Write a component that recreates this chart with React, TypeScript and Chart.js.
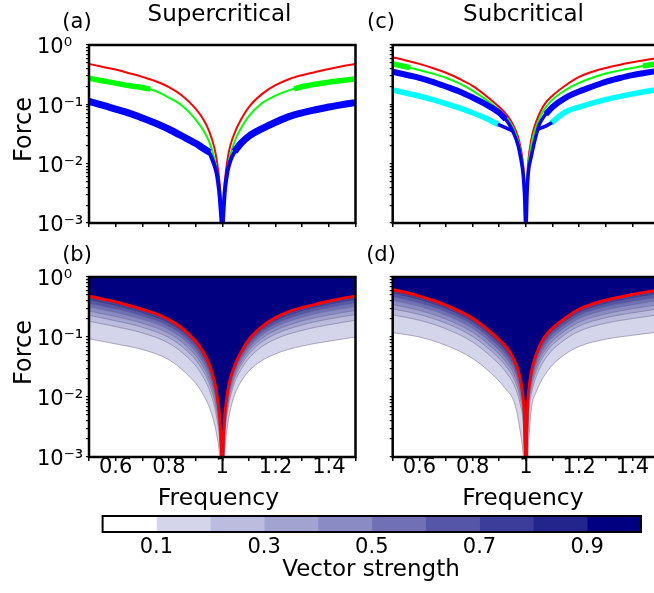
import React, { useEffect, useRef } from 'react';
import { Chart, registerables } from 'chart.js';

Chart.register(...registerables);

const FONT = 'DejaVu Sans';
Chart.defaults.font.family = FONT;
Chart.defaults.color = '#000';

// ---------------- axes / tick labels ----------------
const X_TICKS = [0.5, 0.6, 0.7, 0.8, 0.9, 1, 1.1, 1.2, 1.3, 1.4, 1.5];
const X_LABELED = [0.6, 0.8, 1, 1.2, 1.4];
const Y_TICKS = [
  0.001, 0.002, 0.003, 0.004, 0.005, 0.006, 0.007, 0.008, 0.009,
  0.01, 0.02, 0.03, 0.04, 0.05, 0.06, 0.07, 0.08, 0.09,
  0.1, 0.2, 0.3, 0.4, 0.5, 0.6, 0.7, 0.8, 0.9, 1,
];
const Y_MAJOR = [1, 0.1, 0.01, 0.001];
const Y_MAJOR_LABELS = ['10⁰', '10⁻¹', '10⁻²', '10⁻³'];

// ---------------- top panels: response curves ----------------
const FREQ = [0.5, 0.55, 0.6, 0.65, 0.7, 0.75, 0.8, 0.85, 0.9, 0.93, 0.95, 0.97, 0.98, 0.99, 0.995, 1.0,
  1.005, 1.01, 1.02, 1.03, 1.05, 1.07, 1.1, 1.15, 1.2, 1.25, 1.3, 1.35, 1.4, 1.45, 1.5];

// (a) Supercritical
const RED_A = [0.48, 0.43, 0.385, 0.335, 0.29, 0.245, 0.195, 0.14, 0.085, 0.055, 0.036, 0.019, 0.011, 0.0048, 0.0022, 0.0008,
  0.0024, 0.0052, 0.012, 0.02, 0.036, 0.055, 0.09, 0.15, 0.21, 0.265, 0.31, 0.35, 0.395, 0.44, 0.48];
const GREEN_A = [0.275, 0.25, 0.228, 0.207, 0.192, 0.168, 0.13, 0.095, 0.056, 0.036, 0.024, 0.0125, 0.0075, 0.0032, 0.0015, 0.0008,
  0.0016, 0.0036, 0.0085, 0.014, 0.026, 0.039, 0.063, 0.105, 0.14, 0.172, 0.198, 0.218, 0.236, 0.252, 0.268];
const BLUE_A = [0.112, 0.097, 0.083, 0.071, 0.059, 0.048, 0.038, 0.029, 0.022, 0.018, 0.0155, 0.0095, 0.0065, 0.0029, 0.0015, 0.0008,
  0.0017, 0.0036, 0.0075, 0.011, 0.017, 0.022, 0.029, 0.039, 0.05, 0.062, 0.072, 0.081, 0.09, 0.099, 0.107];
const GREEN_A_THICK_L_X = [0.5, 0.55, 0.6, 0.65, 0.7, 0.73];
const GREEN_A_THICK_L_Y = [0.275, 0.25, 0.228, 0.207, 0.192, 0.18];
const GREEN_A_THICK_R_X = [1.27, 1.3, 1.35, 1.4, 1.45, 1.5];
const GREEN_A_THICK_R_Y = [0.182, 0.198, 0.218, 0.236, 0.252, 0.268];
const BLUE_A_THICK_L_X = [0.5, 0.55, 0.6, 0.65, 0.7, 0.75, 0.8, 0.85, 0.9, 0.93, 0.953];
const BLUE_A_THICK_L_Y = [0.112, 0.097, 0.083, 0.071, 0.059, 0.048, 0.038, 0.029, 0.022, 0.018, 0.0155];
const BLUE_A_THICK_R_X = [1.046, 1.07, 1.1, 1.15, 1.2, 1.25, 1.3, 1.35, 1.4, 1.45, 1.5];
const BLUE_A_THICK_R_Y = [0.016, 0.022, 0.029, 0.039, 0.05, 0.062, 0.072, 0.081, 0.09, 0.099, 0.107];

// (c) Subcritical
const RED_C = [0.62, 0.55, 0.48, 0.41, 0.34, 0.27, 0.205, 0.14, 0.09, 0.065, 0.047, 0.029, 0.019, 0.0095, 0.0048, 0.0008,
  0.0055, 0.012, 0.025, 0.039, 0.068, 0.1, 0.14, 0.21, 0.29, 0.355, 0.41, 0.46, 0.51, 0.56, 0.61];
const GREEN_C = [0.48, 0.43, 0.38, 0.33, 0.28, 0.225, 0.17, 0.12, 0.08, 0.058, 0.042, 0.025, 0.016, 0.008, 0.004, 0.0008,
  0.0045, 0.0095, 0.02, 0.032, 0.057, 0.083, 0.12, 0.175, 0.23, 0.28, 0.33, 0.37, 0.41, 0.45, 0.49];
const BLUE_C = [0.355, 0.315, 0.28, 0.24, 0.2, 0.165, 0.13, 0.1, 0.072, 0.052, 0.036, 0.021, 0.013, 0.0065, 0.003, 0.0008,
  0.0035, 0.0075, 0.013, 0.021, 0.045, 0.064, 0.09, 0.13, 0.165, 0.2, 0.24, 0.275, 0.31, 0.34, 0.37];
const GREEN_C_THICK_L_X = [0.5, 0.55, 0.565];
const GREEN_C_THICK_L_Y = [0.48, 0.43, 0.415];
const GREEN_C_THICK_R_X = [1.44, 1.45, 1.5];
const GREEN_C_THICK_R_Y = [0.442, 0.45, 0.49];
const BLUE_C_THICK_L_X = [0.5, 0.55, 0.6, 0.65, 0.7, 0.75, 0.8, 0.85, 0.9, 0.924];
const BLUE_C_THICK_L_Y = [0.355, 0.315, 0.28, 0.24, 0.2, 0.165, 0.13, 0.1, 0.072, 0.056];
const BLUE_C_THICK_R_X = [1.075, 1.1, 1.15, 1.2, 1.25, 1.3, 1.35, 1.4, 1.45, 1.5];
const BLUE_C_THICK_R_Y = [0.068, 0.09, 0.13, 0.165, 0.2, 0.24, 0.275, 0.31, 0.34, 0.37];
const CYAN_C_L_X = [0.5, 0.55, 0.6, 0.65, 0.7, 0.75, 0.8, 0.85, 0.9];
const CYAN_C_L_Y = [0.175, 0.155, 0.138, 0.12, 0.103, 0.087, 0.072, 0.058, 0.045];
const CYAN_C_R_X = [1.094, 1.15, 1.2, 1.25, 1.3, 1.35, 1.4, 1.45, 1.5];
const CYAN_C_R_Y = [0.048, 0.075, 0.09, 0.105, 0.12, 0.135, 0.15, 0.165, 0.18];
const HOOK_C_L_X = [0.9, 0.925, 0.948];
const HOOK_C_L_Y = [0.045, 0.04, 0.036];
const HOOK_C_R_X = [1.046, 1.07, 1.094];
const HOOK_C_R_Y = [0.038, 0.042, 0.048];

// ---------------- bottom panels: vector-strength contours ----------------
const CF = [0.5, 0.6, 0.7, 0.8, 0.87, 0.92, 0.96, 0.98, 0.99, 1.0, 1.01, 1.02, 1.04, 1.08, 1.13, 1.2, 1.3, 1.4, 1.5];

// (b)
const VS10_B = [0.0935, 0.0767, 0.0619, 0.0417, 0.0234, 0.0127, 0.00525, 0.00224, 0.00107, 0.0002, 0.00132, 0.00339, 0.0089, 0.0209, 0.0355, 0.0525, 0.0708, 0.0851, 0.1];
const VS20_B = [0.183, 0.149, 0.117, 0.0785, 0.0458, 0.0248, 0.0103, 0.0043, 0.00198, 0.0003, 0.00232, 0.0057, 0.0143, 0.0335, 0.0596, 0.0925, 0.129, 0.16, 0.19];
const VS30_B = [0.23, 0.186, 0.145, 0.0974, 0.0575, 0.0311, 0.0129, 0.00537, 0.00244, 0.00035, 0.00282, 0.0068, 0.0168, 0.0394, 0.0712, 0.112, 0.159, 0.199, 0.237];
const VS40_B = [0.27, 0.219, 0.169, 0.114, 0.0678, 0.0366, 0.0152, 0.00629, 0.00283, 0.0004, 0.00324, 0.00772, 0.0188, 0.0442, 0.0808, 0.129, 0.185, 0.232, 0.277];
const VS50_B = [0.318, 0.257, 0.197, 0.133, 0.0798, 0.0432, 0.0179, 0.00737, 0.00329, 0.00045, 0.00372, 0.00876, 0.0211, 0.0495, 0.0917, 0.148, 0.214, 0.271, 0.324];
const VS60_B = [0.363, 0.292, 0.223, 0.15, 0.091, 0.0492, 0.0204, 0.00838, 0.00371, 0.0005, 0.00415, 0.0097, 0.0232, 0.0543, 0.1015, 0.165, 0.24, 0.306, 0.367];
const VS70_B = [0.407, 0.327, 0.248, 0.167, 0.102, 0.0552, 0.0229, 0.00935, 0.00412, 0.0006, 0.00457, 0.0106, 0.0251, 0.0589, 0.111, 0.182, 0.267, 0.341, 0.409];
const VS80_B = [0.446, 0.358, 0.27, 0.182, 0.112, 0.0604, 0.025, 0.0102, 0.00448, 0.0007, 0.00493, 0.01135, 0.0268, 0.0627, 0.119, 0.196, 0.289, 0.372, 0.446];

// (d)
const VS10_D = [0.118, 0.1, 0.0726, 0.0439, 0.0247, 0.01435, 0.00724, 0.0025, 0.0011, 0.0002, 0.0016, 0.006, 0.0124, 0.0265, 0.0452, 0.0695, 0.0918, 0.1067, 0.1216];
const VS20_D = [0.233, 0.1905, 0.1368, 0.0826, 0.0469, 0.0278, 0.0143, 0.00716, 0.00369, 0.0003, 0.00518, 0.0108, 0.0225, 0.048, 0.0796, 0.1247, 0.1697, 0.203, 0.2355];
const VS30_D = [0.294, 0.237, 0.1697, 0.1024, 0.0583, 0.0348, 0.018, 0.00904, 0.00462, 0.00035, 0.00632, 0.0132, 0.0276, 0.0588, 0.0966, 0.152, 0.209, 0.252, 0.295];
const VS40_D = [0.347, 0.277, 0.198, 0.1195, 0.0682, 0.0409, 0.0213, 0.01067, 0.00543, 0.0004, 0.0073, 0.0152, 0.0319, 0.068, 0.111, 0.176, 0.243, 0.295, 0.347];
const VS50_D = [0.409, 0.324, 0.231, 0.1395, 0.0798, 0.0481, 0.0251, 0.0126, 0.00638, 0.00045, 0.0084, 0.0176, 0.0368, 0.0786, 0.127, 0.203, 0.282, 0.345, 0.407];
const VS60_D = [0.468, 0.3675, 0.261, 0.158, 0.0904, 0.0547, 0.0287, 0.0144, 0.00726, 0.0005, 0.00944, 0.0197, 0.0414, 0.0883, 0.142, 0.2275, 0.318, 0.391, 0.4634];
const VS70_D = [0.525, 0.41, 0.291, 0.176, 0.101, 0.0612, 0.0322, 0.0161, 0.00813, 0.0006, 0.0104, 0.0218, 0.0458, 0.0977, 0.157, 0.251, 0.353, 0.4365, 0.519];
const VS80_D = [0.575, 0.447, 0.317, 0.1914, 0.11, 0.0669, 0.0353, 0.0177, 0.00888, 0.0007, 0.01127, 0.0236, 0.0497, 0.106, 0.169, 0.2716, 0.384, 0.4757, 0.567];

// ---------------- colour bar ----------------
const CB_EDGES = [0, 0.1, 0.2, 0.3, 0.4, 0.5, 0.6, 0.7, 0.8, 0.9, 1.0];
const CB_TICKS = [0.1, 0.3, 0.5, 0.7, 0.9];
const CB_COLORS = ['#ffffff', '#d4d4eb', '#bcbcde', '#a3a3d1', '#8a8ac4', '#7070b6', '#5656a8', '#3c3c9a', '#24248d', '#000080'];

// ---------------- helpers ----------------
const pts = (xs: number[], ys: number[]) => xs.map((x, i) => ({ x, y: ys[i] }));

function lineDs(xs: number[], ys: number[], color: string, width: number, order: number, extra: any = {}) {
  return {
    data: pts(xs, ys),
    borderColor: color,
    backgroundColor: color,
    borderWidth: width,
    pointRadius: 0,
    pointHoverRadius: 0,
    fill: false,
    cubicInterpolationMode: 'monotone',
    borderCapStyle: 'butt',
    borderJoinStyle: 'round',
    order,
    ...extra,
  };
}

type TextItem = { t: string; x: number; y: number; size: number; rot?: boolean };

const textPlugin = (items: TextItem[]) => ({
  id: 'panelTexts',
  afterDraw(chart: any) {
    const ctx = chart.ctx;
    ctx.save();
    ctx.fillStyle = '#000';
    ctx.textAlign = 'center';
    ctx.textBaseline = 'alphabetic';
    for (const it of items) {
      ctx.font = `${it.size}px "${FONT}"`;
      if (it.rot) {
        ctx.save();
        ctx.translate(it.x, it.y);
        ctx.rotate(-Math.PI / 2);
        ctx.fillText(it.t, 0, 0);
        ctx.restore();
      } else {
        ctx.fillText(it.t, it.x, it.y);
      }
    }
    ctx.restore();
  },
});

const framePlugin = (w: number) => ({
  id: 'frame',
  afterDraw(chart: any) {
    const { left, top, right, bottom } = chart.chartArea;
    const ctx = chart.ctx;
    ctx.save();
    ctx.lineWidth = w;
    ctx.strokeStyle = '#000';
    ctx.strokeRect(left, top, right - left, bottom - top);
    ctx.restore();
  },
});

const xScale = (h: number, labels: boolean) => ({
  type: 'linear',
  min: 0.5,
  max: 1.5,
  afterBuildTicks: (s: any) => { s.ticks = X_TICKS.map((v) => ({ value: v })); },
  afterFit: (s: any) => { s.height = h; },
  ticks: {
    autoSkip: false,
    maxRotation: 0,
    padding: -6,
    color: '#000',
    font: { size: 21, family: FONT },
    callback: (v: number) => (labels && X_LABELED.includes(v) ? String(v) : ''),
  },
  grid: { display: true, drawOnChartArea: false, drawTicks: true, tickLength: 4, color: '#000', lineWidth: 1.5 },
  border: { display: false },
});

const yScale = (w: number, labels: boolean) => ({
  type: 'logarithmic',
  min: 0.001,
  max: 1,
  afterBuildTicks: (s: any) => { s.ticks = Y_TICKS.map((v) => ({ value: v })); },
  afterFit: (s: any) => { s.width = w; },
  ticks: {
    autoSkip: false,
    crossAlign: 'far',
    padding: 0,
    labelOffset: 3,
    color: '#000',
    font: { size: 21, family: FONT },
    callback: (v: number) => {
      if (!labels) return '';
      const i = Y_MAJOR.indexOf(v);
      return i >= 0 ? Y_MAJOR_LABELS[i] : '';
    },
  },
  grid: { display: true, drawOnChartArea: false, drawTicks: true, tickLength: 3, color: '#000', lineWidth: 1.2 },
  border: { display: false },
});

function panelConfig(p: any) {
  return {
    type: 'line',
    data: { datasets: p.datasets },
    options: {
      responsive: false,
      animation: false,
      devicePixelRatio: 1,
      events: [],
      layout: { padding: { left: p.padLeft, right: p.padRight, top: p.padTop, bottom: 0 } },
      plugins: { legend: { display: false }, tooltip: { enabled: false } },
      scales: { x: xScale(p.xHeight, p.xLabels), y: yScale(p.yWidth, p.yLabels) },
    },
    plugins: [framePlugin(2.5), textPlugin(p.texts)],
  };
}

const RED = '#ff0000';
const GREEN = '#00ff00';
const BLUE = '#0000ff';
const CYAN = '#00ffff';
const CONTOUR_LINE = 'rgba(105,105,140,0.65)';

function contourSet(levels: number[][], red: number[]) {
  const ds: any[] = [];
  levels.forEach((ys, i) => {
    ds.push(lineDs(CF, ys, CONTOUR_LINE, 0.8, 8 - i, { fill: 'end', backgroundColor: CB_COLORS[i + 1] }));
  });
  ds.push(lineDs(FREQ, red, RED, 3, 0, { fill: 'end', backgroundColor: CB_COLORS[9] }));
  return ds;
}

const buildA = () => panelConfig({
  padLeft: 37, yWidth: 52, padTop: 45, xHeight: 17, padRight: 4.5, xLabels: false, yLabels: true,
  texts: [
    { t: '(a)', x: 77, y: 28, size: 21 },
    { t: 'Supercritical', x: 219.5, y: 21, size: 23 },
    { t: 'Force', x: 31, y: 129.5, size: 24, rot: true },
  ],
  datasets: [
    lineDs(FREQ, RED_A, RED, 2, 6),
    lineDs(FREQ, GREEN_A, GREEN, 2, 5),
    lineDs(GREEN_A_THICK_L_X, GREEN_A_THICK_L_Y, GREEN, 5.5, 4),
    lineDs(GREEN_A_THICK_R_X, GREEN_A_THICK_R_Y, GREEN, 5.5, 4),
    lineDs(FREQ, BLUE_A, BLUE, 4, 3),
    lineDs(BLUE_A_THICK_L_X, BLUE_A_THICK_L_Y, BLUE, 7, 2),
    lineDs(BLUE_A_THICK_R_X, BLUE_A_THICK_R_Y, BLUE, 7, 2),
  ],
});

const buildC = () => panelConfig({
  padLeft: 20, yWidth: 12.7, padTop: 45, xHeight: 17, padRight: 1, xLabels: false, yLabels: false,
  texts: [
    { t: '(c)', x: 21, y: 28, size: 21 },
    { t: 'Subcritical', x: 163.5, y: 21, size: 23 },
  ],
  datasets: [
    lineDs(FREQ, RED_C, RED, 2, 7),
    lineDs(FREQ, GREEN_C, GREEN, 2, 6),
    lineDs(GREEN_C_THICK_L_X, GREEN_C_THICK_L_Y, GREEN, 5.5, 5),
    lineDs(GREEN_C_THICK_R_X, GREEN_C_THICK_R_Y, GREEN, 5.5, 5),
    lineDs(CYAN_C_L_X, CYAN_C_L_Y, CYAN, 5.5, 4),
    lineDs(CYAN_C_R_X, CYAN_C_R_Y, CYAN, 5.5, 4),
    lineDs(FREQ, BLUE_C, BLUE, 3.5, 3),
    lineDs(BLUE_C_THICK_L_X, BLUE_C_THICK_L_Y, BLUE, 6, 2),
    lineDs(BLUE_C_THICK_R_X, BLUE_C_THICK_R_Y, BLUE, 6, 2),
    lineDs(HOOK_C_L_X, HOOK_C_L_Y, BLUE, 3.5, 1, { borderCapStyle: 'round' }),
    lineDs(HOOK_C_R_X, HOOK_C_R_Y, BLUE, 3.5, 1, { borderCapStyle: 'round' }),
  ],
});

const buildB = () => panelConfig({
  padLeft: 37, yWidth: 52, padTop: 37, xHeight: 53, padRight: 4.5, xLabels: true, yLabels: true,
  texts: [
    { t: '(b)', x: 77, y: 20.5, size: 21 },
    { t: 'Force', x: 31, y: 112.5, size: 24, rot: true },
    { t: 'Frequency', x: 218.5, y: 265, size: 23.5 },
  ],
  datasets: contourSet([VS10_B, VS20_B, VS30_B, VS40_B, VS50_B, VS60_B, VS70_B, VS80_B], RED_A),
});

const buildD = () => panelConfig({
  padLeft: 20, yWidth: 12.7, padTop: 37, xHeight: 53, padRight: 1, xLabels: true, yLabels: false,
  texts: [
    { t: '(d)', x: 21, y: 21, size: 21 },
    { t: 'Frequency', x: 163, y: 265, size: 23.5 },
  ],
  datasets: contourSet([VS10_D, VS20_D, VS30_D, VS40_D, VS50_D, VS60_D, VS70_D, VS80_D], RED_C),
});

const buildBar = () => ({
  type: 'bar',
  data: {
    labels: ['vs'],
    datasets: CB_COLORS.map((c, i) => ({
      data: [[CB_EDGES[i], CB_EDGES[i + 1]]],
      backgroundColor: c,
      borderWidth: 0,
      barPercentage: 1,
      categoryPercentage: 1,
      grouped: false,
    })),
  },
  options: {
    indexAxis: 'y',
    responsive: false,
    animation: false,
    devicePixelRatio: 1,
    events: [],
    layout: { padding: { left: 102.6, right: 13, top: 11, bottom: 0 } },
    plugins: { legend: { display: false }, tooltip: { enabled: false } },
    scales: {
      x: {
        type: 'linear',
        min: 0,
        max: 1,
        afterBuildTicks: (s: any) => { s.ticks = CB_TICKS.map((v) => ({ value: v })); },
        afterFit: (s: any) => { s.height = 61; },
        ticks: { autoSkip: false, maxRotation: 0, padding: -5, color: '#000', font: { size: 21, family: FONT }, callback: (v: number) => String(v) },
        grid: { display: false },
        border: { display: false },
      },
      y: { display: false },
    },
  },
  plugins: [framePlugin(2), textPlugin([{ t: 'Vector strength', x: 371, y: 71, size: 23 }])],
});

function ChartBox({ left, top, width, height, build }: any) {
  const ref = useRef<HTMLCanvasElement>(null);
  useEffect(() => {
    const chart = new Chart(ref.current as HTMLCanvasElement, build() as any);
    return () => chart.destroy();
  }, []);
  return (
    <div style={{ position: 'absolute', left, top, width, height }}>
      <canvas ref={ref} width={width} height={height} style={{ width, height, display: 'block' }} />
    </div>
  );
}

export default function App() {
  return (
    <div style={{ position: 'absolute', left: 0, top: 0, width: 654, height: 593, overflow: 'hidden', background: '#fff' }}>
      <ChartBox left={0} top={0} width={360} height={240} build={buildA} />
      <ChartBox left={360} top={0} width={300} height={240} build={buildC} />
      <ChartBox left={0} top={240} width={360} height={270} build={buildB} />
      <ChartBox left={360} top={240} width={300} height={270} build={buildD} />
      <ChartBox left={0} top={505} width={654} height={88} build={buildBar} />
    </div>
  );
}
